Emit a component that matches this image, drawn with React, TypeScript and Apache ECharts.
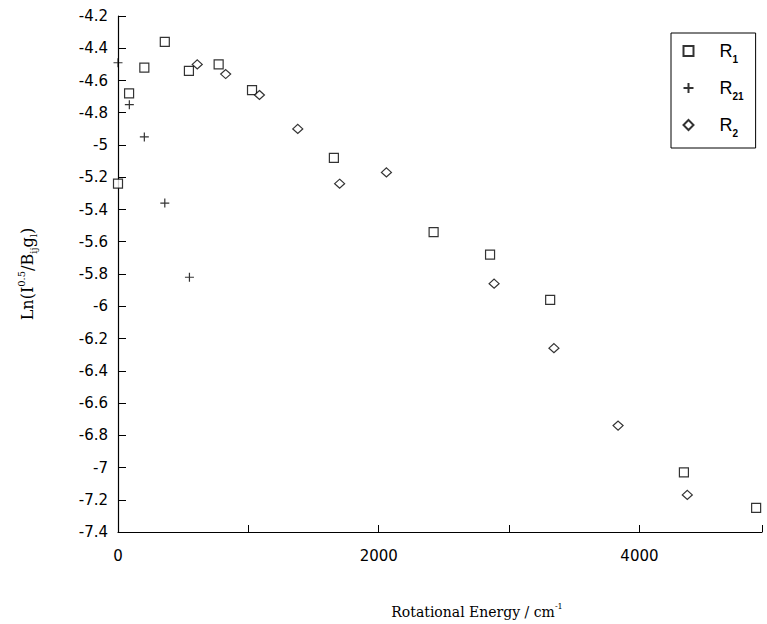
import React, { useEffect, useRef } from "react";
import * as echarts from "echarts";

const seriesNames = ["R1", "R21", "R2"];

const xR1 = [0, 85, 202, 359, 544, 772, 1028, 1656, 2421, 2854, 3315, 4341, 4895];
const yR1 = [-5.24, -4.68, -4.52, -4.36, -4.54, -4.5, -4.66, -5.08, -5.54, -5.68, -5.96, -7.03, -7.25];

const xR21 = [0, 87, 202, 359, 548];
const yR21 = [-4.49, -4.75, -4.95, -5.36, -5.82];

const xR2 = [608, 826, 1085, 1379, 1700, 2059, 2885, 3344, 3836, 4367];
const yR2 = [-4.5, -4.56, -4.69, -4.9, -5.24, -5.17, -5.86, -6.26, -6.74, -7.17];

const xLabelValues = [0, 2000, 4000];

const pair = (xs: number[], ys: number[]) => xs.map((x, i) => [x, ys[i]]);

export default function App() {
  const ref = useRef<HTMLDivElement>(null);

  useEffect(() => {
    if (!ref.current) return;
    const chart = echarts.init(ref.current, null, { renderer: "svg" });
    const markStyle = { color: "#fff", borderColor: "#000", borderWidth: 1.2 };
    const legendLabel: Record<string, string> = {
      R1: "{sp|}{m|R}{sub|1}",
      R21: "{sp|}{m|R}{sub|21}",
      R2: "{sp|}{m|R}{sub|2}",
    };
    chart.setOption({
      animation: false,
      backgroundColor: "#fff",
      grid: { left: 118, top: 16, right: 5, bottom: 92 },
      xAxis: {
        type: "value",
        min: 0,
        max: 4940,
        interval: 1000,
        name: "Rotational Energy / cm{sup|-1}",
        nameLocation: "middle",
        nameGap: 70,
        nameTextStyle: {
          fontFamily: "DejaVu Serif",
          fontSize: 14,
          color: "#000",
          padding: [0, 0, 0, 74],
          rich: {
            sup: { fontSize: 8, verticalAlign: "top", lineHeight: 20, fontFamily: "DejaVu Serif" },
          },
        },
        axisLine: { show: true, lineStyle: { color: "#000", width: 1.2 } },
        axisTick: { show: true, inside: true, length: 7, lineStyle: { color: "#000" } },
        splitLine: { show: false },
        axisLabel: {
          margin: 16,
          fontFamily: "DejaVu Sans",
          fontSize: 15,
          color: "#000",
          formatter: (v: number) => (xLabelValues.includes(v) ? String(v) : ""),
        },
      },
      yAxis: {
        type: "value",
        min: -7.4,
        max: -4.2,
        interval: 0.2,
        name: "Ln(I{sup|0.5}/B{sub|ij}g{sub|l})",
        nameLocation: "middle",
        nameRotate: 90,
        nameGap: 80,
        nameTextStyle: {
          fontFamily: "DejaVu Serif",
          fontSize: 16,
          color: "#000",
          rich: {
            sup: { fontSize: 10, verticalAlign: "top", lineHeight: 22, fontFamily: "DejaVu Serif" },
            sub: { fontSize: 10, verticalAlign: "bottom", lineHeight: 22, fontFamily: "DejaVu Serif" },
          },
        },
        axisLine: { show: true, lineStyle: { color: "#000", width: 1.2 } },
        axisTick: { show: true, inside: true, length: 8, lineStyle: { color: "#000" } },
        splitLine: { show: false },
        axisLabel: {
          margin: 10,
          fontFamily: "DejaVu Sans",
          fontSize: 15,
          color: "#000",
          formatter: (v: number) => String(parseFloat(v.toFixed(1))),
        },
      },
      legend: {
        orient: "vertical",
        left: 671,
        top: 33,
        padding: [9, 12, 10, 10],
        itemGap: 15,
        itemWidth: 10,
        itemHeight: 10,
        borderColor: "#000",
        borderWidth: 1,
        backgroundColor: "#fff",
        data: seriesNames,
        formatter: (name: string) => legendLabel[name] || name,
        textStyle: {
          fontFamily: "Liberation Sans",
          fontSize: 18,
          color: "#000",
          rich: {
            sp: { width: 21, lineHeight: 26 },
            m: { fontSize: 18, lineHeight: 26, fontFamily: "Liberation Sans" },
            sub: { fontSize: 10, verticalAlign: "bottom", lineHeight: 26, fontFamily: "Liberation Sans", fontWeight: "bold" },
          },
        },
      },
      series: [
        {
          name: seriesNames[0],
          type: "scatter",
          symbol: "rect",
          symbolSize: 9,
          itemStyle: markStyle,
          data: pair(xR1, yR1),
        },
        {
          name: seriesNames[1],
          type: "scatter",
          symbol: "path://M5 0V10M0 5H10",
          symbolSize: 9,
          itemStyle: { color: "none", borderColor: "#000", borderWidth: 1.2 },
          data: pair(xR21, yR21),
        },
        {
          name: seriesNames[2],
          type: "scatter",
          symbol: "diamond",
          symbolSize: [10, 9],
          itemStyle: markStyle,
          data: pair(xR2, yR2),
        },
      ],
    });
    return () => chart.dispose();
  }, []);

  return (
    <div
      ref={ref}
      style={{ position: "fixed", left: 0, top: 0, width: 767, height: 624 }}
    />
  );
}
